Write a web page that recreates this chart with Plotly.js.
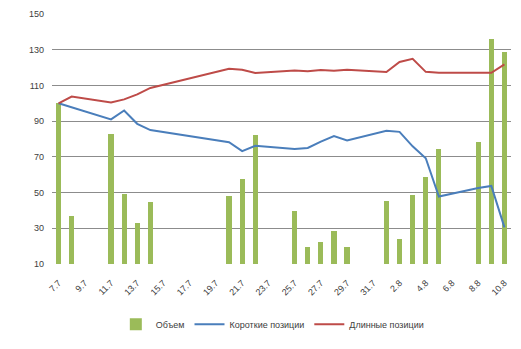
<!DOCTYPE html>
<html>
<head>
<meta charset="utf-8">
<script src="https://cdn.plot.ly/plotly-3.0.1.min.js"></script>
<style>html,body{margin:0;padding:0;background:#fff;}#chart{width:521px;height:349px;}</style>
</head>
<body>
<div id="chart"></div>
<script>
const dates = ["2013-07-07","2013-07-08","2013-07-11","2013-07-12","2013-07-13","2013-07-14",
  "2013-07-20","2013-07-21","2013-07-22","2013-07-25","2013-07-26","2013-07-27","2013-07-28","2013-07-29",
  "2013-08-01","2013-08-02","2013-08-03","2013-08-04","2013-08-05","2013-08-08","2013-08-09","2013-08-10"];
const volume = [100,37,83,49,33,45,48,57.5,82,39.5,19.5,22.5,28.5,19.5,45.5,24,48.5,58.5,74.5,78.5,135.8,129];
const shortPos = [100,null,91,96,88.5,85,78.2,73.2,76.2,74.4,75,78.5,81.7,79.2,84.6,84,75.9,69.2,47.8,52.6,53.7,30.5];
const longPos = [100,103.8,100.5,102.2,105,108.6,119.3,118.8,117,118.4,118,118.6,118.2,118.8,117.5,123.1,124.9,117.6,117.1,117.1,117.1,121.8];
const names = ["Объем","Короткие позиции","Длинные позиции"];

const traces = [
  {type:'bar', x:dates, y:volume, base:0, name:names[0], marker:{color:'#9BBB59', line:{width:0}}, width:0.4*86400000},
  {type:'scatter', mode:'lines', x:dates, y:shortPos, name:names[1], connectgaps:true, line:{color:'#4A7EBB', width:2}},
  {type:'scatter', mode:'lines', x:dates, y:longPos, name:names[2], connectgaps:true, line:{color:'#BE4B48', width:2}}
];

const layout = {
  width:521, height:349,
  margin:{l:52, r:10, t:14, b:78},
  paper_bgcolor:'#ffffff', plot_bgcolor:'#ffffff',
  font:{family:'Liberation Sans, Arial, sans-serif', size:9, color:'#404040'},
  showlegend:true,
  legend:{orientation:'h', x:0.48, xanchor:'center', y:-0.241, yanchor:'middle', font:{size:9, color:'#404040'}, traceorder:'normal', itemwidth:30},
  xaxis:{type:'date', range:['2013-07-06 12:00','2013-08-10 12:00'], tick0:'2013-07-07', dtick:2*86400000,
    tickformat:'%-d.%-m', tickangle:-45, showgrid:false, zeroline:false, showline:false, ticks:'', ticklabelstandoff:11, fixedrange:true},
  yaxis:{range:[10,150], dtick:20, tick0:10, showgrid:true, gridcolor:'#8c8c8c', gridwidth:1, zeroline:false,
    showline:false, ticks:'', ticklabelstandoff:7, fixedrange:true},
  bargap:0
};
Plotly.newPlot('chart', traces, layout, {staticPlot:true});
</script>
</body>
</html>
